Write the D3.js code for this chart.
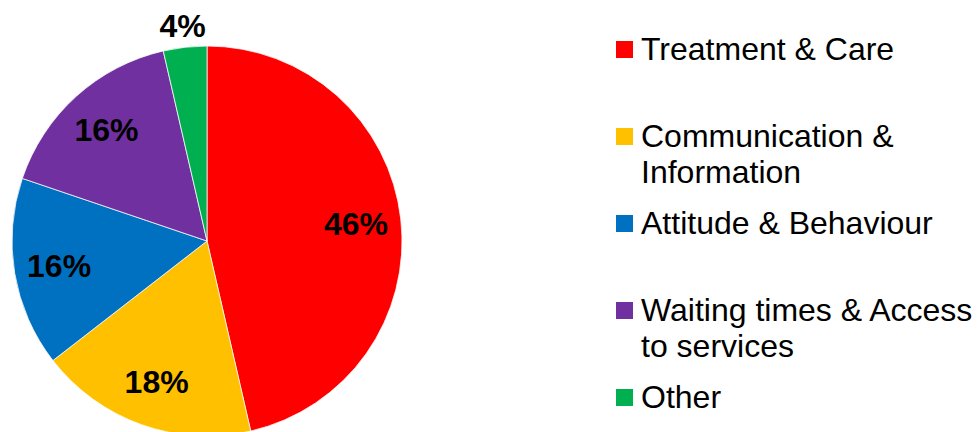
<!DOCTYPE html>
<html>
<head>
<meta charset="utf-8">
<script src="https://cdn.jsdelivr.net/npm/d3@7"></script>
<style>
  body { margin: 0; background: #fff; }
  svg { display: block; font-family: "Liberation Sans", Arial, sans-serif; }
</style>
</head>
<body>
<svg></svg>
<script>
// categories in the order they go round the pie (clockwise from 12 o'clock)
const categories = ['Treatment & Care', 'Communication &\nInformation', 'Attitude & Behaviour',
    'Waiting times & Access\nto services', 'Other'];
const shares = [46.4, 18.1, 15.7, 16.2, 3.6];
const labels = ['46%', '18%', '16%', '16%', '4%'];
const colors = ['#FF0000', '#FFC000', '#0070C0', '#7030A0', '#00B050'];

const size = {w: 980, h: 432};
const svg = d3.select('svg')
    .attr('width', size.w)
    .attr('height', size.h);

const data = categories.map((c, i) => ({name: c, value: shares[i], label: labels[i], color: colors[i]}));

// --------- PIE ----------
const radius = 195;
const pieG = svg.append('g')
    .attr('transform', `translate(207, 241)`);

const pie = d3.pie()
    .sort(null)
    .value(d => d.value);

const arc = d3.arc()
    .innerRadius(0)
    .outerRadius(radius);

// inside labels sit at ~150px, small slices get pushed outside the pie
const labelArc = d3.arc().innerRadius(150).outerRadius(150);
const outerArc = d3.arc().innerRadius(217).outerRadius(217);

const arcs = pie(data);

pieG.selectAll('path')
    .data(arcs)
    .join('path')
    .attr('d', arc)
    .style('fill', d => d.data.color)
    .style('stroke', '#fff')
    .style('stroke-width', 0.75);

pieG.selectAll('text')
    .data(arcs)
    .join('text')
    .attr('transform', d => {
        let small = d.endAngle - d.startAngle < 0.4;
        let p = small ? outerArc.centroid(d) : labelArc.centroid(d);
        return `translate(${p[0]}, ${p[1]})`;
    })
    .attr('text-anchor', 'middle')
    .attr('dy', '0.35em')
    .style('font-size', '32px')
    .style('font-weight', 'bold')
    .style('fill', '#000')
    .text(d => d.data.label);

// --------- LEGEND ----------
const legendG = svg.append('g')
    .attr('transform', 'translate(616, 60)');

const item = legendG.selectAll('g')
    .data(data)
    .join('g')
    .attr('transform', (d, i) => `translate(0, ${i * 87})`);

item.append('rect')
    .attr('x', 0)
    .attr('y', -19)
    .attr('width', 17)
    .attr('height', 17)
    .style('fill', d => d.color);

item.append('text')
    .attr('x', 25)
    .style('font-size', '32px')
    .style('fill', '#000')
    .selectAll('tspan')
    .data(d => d.name.split('\n'))
    .join('tspan')
    .attr('x', 25)
    .attr('y', (d, i) => i * 36)
    .text(d => d);
</script>
</body>
</html>
